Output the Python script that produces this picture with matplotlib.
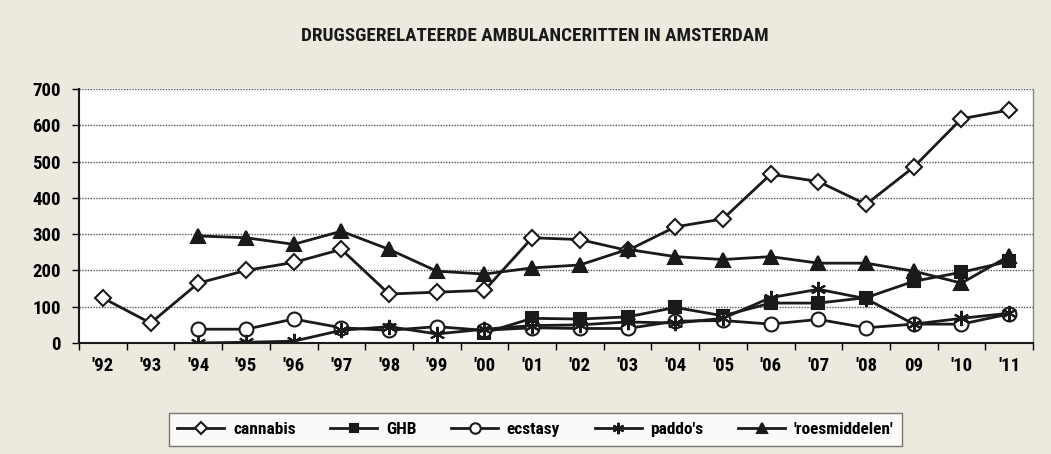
import matplotlib.pyplot as plt
import numpy as np

years = ["'92", "'93", "'94", "'95", "'96", "'97", "'98", "'99", "'00", "'01",
         "'02", "'03", "'04", "'05", "'06", "'07", "'08", "09", "'10", "'11"]

cannabis = [124, 55, 165, 200, 222, 258, 135, 140, 145, 290,
            285, 255, 320, 342, 465, 445, 382, 485, 618, 642]
ghb = [None] * 8 + [28, 68, 66, 72, 98, 75, 110, 110, 125, 170, 195, 225]
ecstasy = [None] * 2 + [38, 38, 66, 42, 35, 45, 35, 42,
                        40, 40, 60, 62, 52, 65, 42, 52, 52, 80]
paddos = [None] * 2 + [0, 2, 5, 35, 45, 25, 38, 48,
                       50, 58, 55, 68, 125, 148, 122, 52, 68, 82]
roes = [None] * 2 + [295, 290, 272, 308, 258, 198, 190, 207,
                     215, 258, 238, 230, 238, 220, 220, 198, 165, 240]

plt.rcParams['font.family'] = ['Roboto Condensed', 'DejaVu Sans']
plt.rcParams['font.weight'] = 'bold'

bg = '#ece9df'
fig = plt.figure(figsize=(10.51, 4.54), dpi=100, facecolor=bg)
ax = fig.add_axes([0.0752, 0.2445, 0.9077, 0.5595])
ax.set_facecolor('white')

x = np.arange(len(years))


def tofloat(vals):
    return np.array([np.nan if v is None else v for v in vals], dtype=float)


style = dict(color='#1a1a1a', linewidth=2, markeredgewidth=1.5, markeredgecolor='#1a1a1a')
ax.plot(x, tofloat(cannabis), marker='D', markersize=8, markerfacecolor='white', label='cannabis', **style)
ax.plot(x, tofloat(ghb), marker='s', markersize=8, markerfacecolor='#1a1a1a', label='GHB', **style)
ax.plot(x, tofloat(ecstasy), marker='o', markersize=10, markerfacecolor='white', label='ecstasy', **style)
ax.plot(x, tofloat(paddos), marker=(6, 2, 0), markersize=11, label="paddo's", **style)
ax.plot(x, tofloat(roes), marker='^', markersize=10, markerfacecolor='#1a1a1a', label="'roesmiddelen'", **style)

ax.set_xlim(-0.5, len(years) - 0.5)
ax.set_ylim(0, 700)
ax.set_yticks(range(0, 701, 100))
ax.set_yticklabels([str(v) for v in range(0, 701, 100)], fontsize=13.5, fontweight='bold')
ax.set_xticks(x)
ax.set_xticklabels(years, fontsize=13.5, fontweight='bold')
ax.set_xticks(np.arange(-0.5, len(years)), minor=True)
ax.tick_params(axis='x', which='major', length=0, pad=10)
ax.tick_params(axis='x', which='minor', length=5, width=1, direction='out')
ax.tick_params(axis='y', length=5, width=1, direction='out', pad=8)
ax.yaxis.grid(True, linestyle=(0, (1, 1)), color='#555555', linewidth=1)
ax.set_axisbelow(True)

for s in ['left', 'bottom']:
    ax.spines[s].set_linewidth(1.5)
    ax.spines[s].set_color('#1a1a1a')
ax.spines['top'].set_visible(False)
ax.spines['right'].set_color('#888888')
ax.spines['right'].set_linewidth(1)

fig.text(0.509, 0.921, 'DRUGSGERELATEERDE AMBULANCERITTEN IN AMSTERDAM',
         ha='center', va='center', fontsize=13.8, fontweight='bold', color='#1a1a1a')

leg = fig.legend(loc='center', bbox_to_anchor=(0.5095, 0.054), ncol=5,
                 frameon=True, fancybox=False, edgecolor='#555555', fontsize=12.5,
                 handlelength=2.7, handletextpad=0.5, columnspacing=2.0,
                 borderpad=0.5, markerscale=0.75)
leg.get_frame().set_linewidth(1)
for t in leg.get_texts():
    t.set_fontweight('bold')

fig.savefig('out.png', dpi=100, facecolor=bg)
